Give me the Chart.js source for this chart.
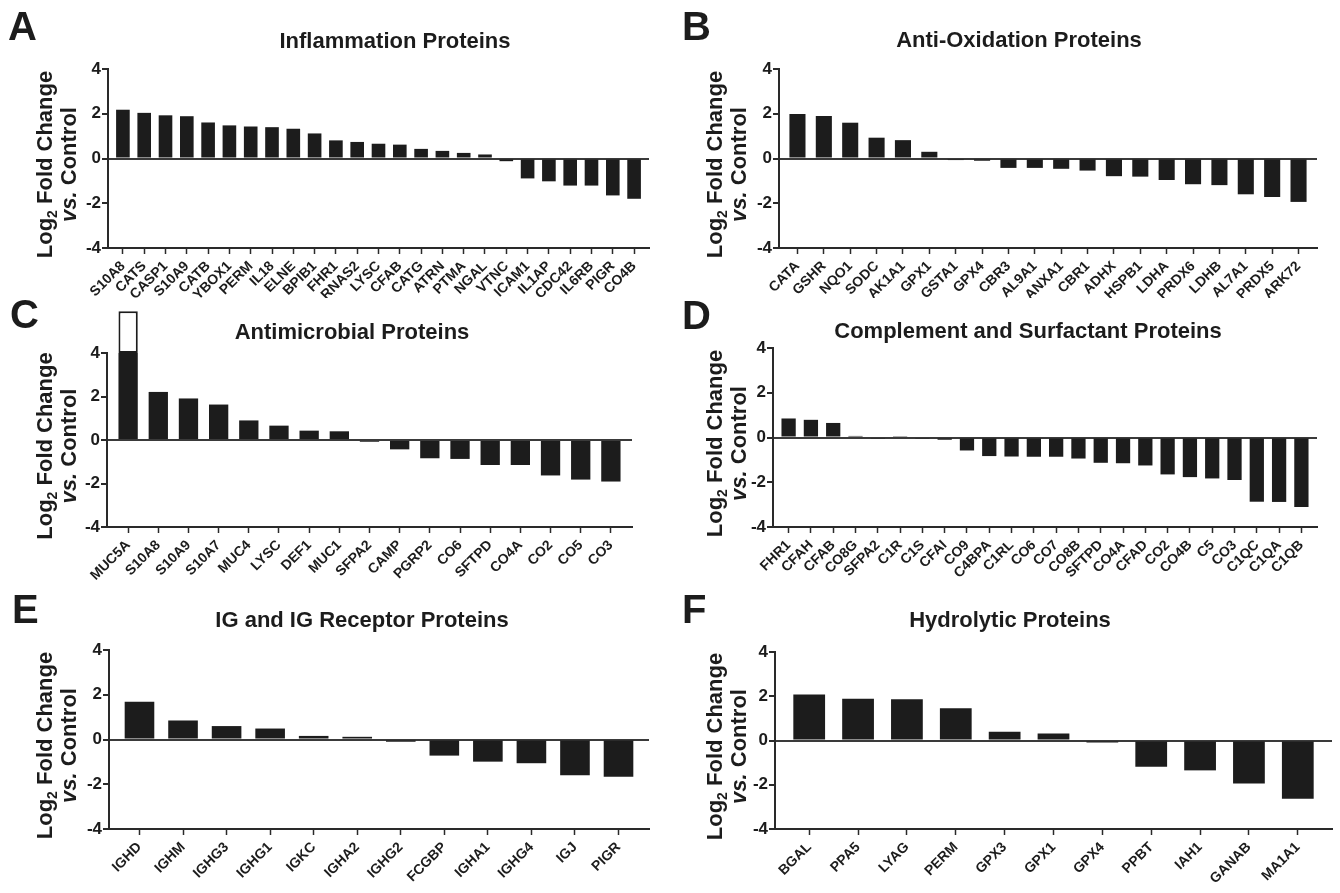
<!DOCTYPE html>
<html lang="en">
<head>
<meta charset="UTF-8">
<title>Log2 fold change of protein groups</title>
<script src="https://cdn.jsdelivr.net/npm/chart.js@4"></script>
<style>
  body { margin: 0; background: #fff; }
  .figure { position: relative; width: 1340px; height: 893px; }
  .figure canvas { position: absolute; }
</style>
</head>
<body>
<div class="figure">
  <canvas id="chartA" width="670" height="298" style="left:0;top:0"></canvas>
  <canvas id="chartB" width="670" height="298" style="left:670px;top:0"></canvas>
  <canvas id="chartC" width="670" height="292" style="left:0;top:298px"></canvas>
  <canvas id="chartD" width="670" height="292" style="left:670px;top:298px"></canvas>
  <canvas id="chartE" width="670" height="303" style="left:0;top:590px"></canvas>
  <canvas id="chartF" width="670" height="303" style="left:670px;top:590px"></canvas>
</div>

<script>
// A - Inflammation
var inflLabels = ['S10A8', 'CATS', 'CASP1', 'S10A9', 'CATB', 'YBOX1', 'PERM', 'IL18', 'ELNE', 'BPIB1',
  'FHR1', 'RNAS2', 'LYSC', 'CFAB', 'CATG', 'ATRN', 'PTMA', 'NGAL', 'VTNC', 'ICAM1', 'IL1AP',
  'CDC42', 'IL6RB', 'PIGR', 'CO4B'];
var inflValues = [2.18, 2.04, 1.93, 1.89, 1.61, 1.48, 1.43, 1.40, 1.33, 1.12, 0.81, 0.74, 0.66,
  0.62, 0.43, 0.34, 0.25, 0.18, -0.12, -0.89, -1.02, -1.21, -1.21, -1.65, -1.80];

// B - Anti-oxidation
var oxLabels = ['CATA', 'GSHR', 'NQO1', 'SODC', 'AK1A1', 'GPX1', 'GSTA1', 'GPX4', 'CBR3', 'AL9A1',
  'ANXA1', 'CBR1', 'ADHX', 'HSPB1', 'LDHA', 'PRDX6', 'LDHB', 'AL7A1', 'PRDX5', 'ARK72'];
var oxValues = [1.99, 1.90, 1.60, 0.93, 0.82, 0.30, -0.07, -0.10, -0.42, -0.42, -0.46, -0.54,
  -0.79, -0.81, -0.96, -1.15, -1.19, -1.60, -1.72, -1.94];

// C - Antimicrobial (MUC5A runs past the top of the axis)
var microLabels = ['MUC5A', 'S10A8', 'S10A9', 'S10A7', 'MUC4', 'LYSC', 'DEF1', 'MUC1', 'SFPA2',
  'CAMP', 'PGRP2', 'CO6', 'SFTPD', 'CO4A', 'CO2', 'CO5', 'CO3'];
var microValues = [5.92, 2.21, 1.91, 1.63, 0.90, 0.66, 0.43, 0.40, -0.08, -0.43, -0.84, -0.87,
  -1.15, -1.15, -1.63, -1.82, -1.91];

// D - Complement and surfactant
var compLabels = ['FHR1', 'CFAH', 'CFAB', 'CO8G', 'SFPA2', 'C1R', 'C1S', 'CFAI', 'CO9', 'C4BPA',
  'C1RL', 'CO6', 'CO7', 'CO8B', 'SFTPD', 'CO4A', 'CFAD', 'CO2', 'CO4B', 'C5', 'CO3', 'C1QC',
  'C1QA', 'C1QB'];
var compValues = [0.85, 0.79, 0.65, 0.07, -0.06, 0.06, -0.06, -0.10, -0.58, -0.83, -0.85, -0.86,
  -0.86, -0.94, -1.13, -1.15, -1.25, -1.65, -1.77, -1.83, -1.90, -2.87, -2.88, -3.11];

// E - IG and IG receptor
var igLabels = ['IGHD', 'IGHM', 'IGHG3', 'IGHG1', 'IGKC', 'IGHA2', 'IGHG2', 'FCGBP', 'IGHA1',
  'IGHG4', 'IGJ', 'PIGR'];
var igValues = [1.69, 0.85, 0.60, 0.49, 0.16, 0.12, -0.10, -0.72, -0.99, -1.06, -1.60, -1.67];

// F - Hydrolytic
var hydroLabels = ['BGAL', 'PPA5', 'LYAG', 'PERM', 'GPX3', 'GPX1', 'GPX4', 'PPBT', 'IAH1',
  'GANAB', 'MA1A1'];
var hydroValues = [2.08, 1.89, 1.86, 1.46, 0.39, 0.32, -0.09, -1.19, -1.35, -1.94, -2.63];

var yTicks = [-4, -2, 0, 2, 4];

var FONT = '"Liberation Sans", Arial, Helvetica, sans-serif';
var INK = '#1c1c1c';
var AXIS = '#2a2a2a';

// where each panel sits inside its own canvas
var panels = [
  { id: 'chartA', letter: 'A', title: 'Inflammation Proteins', labels: inflLabels, values: inflValues,
    left: 108, right: 649, top: 69, bottom: 248, titleX: 395, titleY: 48, letterX: 8, letterY: 40, bar: 0.64 },
  { id: 'chartB', letter: 'B', title: 'Anti-Oxidation Proteins', labels: oxLabels, values: oxValues,
    left: 109, right: 647, top: 69, bottom: 248, titleX: 349, titleY: 47, letterX: 12, letterY: 40, bar: 0.61 },
  { id: 'chartC', letter: 'C', title: 'Antimicrobial Proteins', labels: microLabels, values: microValues,
    left: 107, right: 632, top: 55, bottom: 229, titleX: 352, titleY: 41, letterX: 10, letterY: 30, bar: 0.64 },
  { id: 'chartD', letter: 'D', title: 'Complement and Surfactant Proteins', labels: compLabels, values: compValues,
    left: 103, right: 647, top: 50, bottom: 229, titleX: 358, titleY: 40, letterX: 12, letterY: 31, bar: 0.64 },
  { id: 'chartE', letter: 'E', title: 'IG and IG Receptor Proteins', labels: igLabels, values: igValues,
    left: 109, right: 649, top: 60, bottom: 239, titleX: 362, titleY: 37, letterX: 12, letterY: 33, bar: 0.68 },
  { id: 'chartF', letter: 'F', title: 'Hydrolytic Proteins', labels: hydroLabels, values: hydroValues,
    left: 105, right: 662, top: 62, bottom: 239, titleX: 340, titleY: 37, letterX: 12, letterY: 33, bar: 0.65 }
];

// panel letter, title and the two-line y title (subscript 2, italic vs.)
var panelText = {
  id: 'panelText',
  afterDraw: function (chart, args, o) {
    var ctx = chart.ctx, a = chart.chartArea;
    var big = 'bold 22px ' + FONT;
    var sub = 'bold 14px ' + FONT;
    var ital = 'italic bold 22px ' + FONT;
    ctx.save();
    ctx.fillStyle = INK;
    ctx.textBaseline = 'alphabetic';
    ctx.textAlign = 'left';
    ctx.font = 'bold 40px ' + FONT;
    ctx.fillText(o.letter, o.letterX, o.letterY);
    ctx.font = big;
    ctx.textAlign = 'center';
    ctx.fillText(o.title, o.titleX, o.titleY);

    ctx.translate(0, (a.top + a.bottom) / 2 + 6);
    ctx.rotate(-Math.PI / 2);
    ctx.textAlign = 'left';
    ctx.font = big;
    var w1 = ctx.measureText('Log').width;
    var w3 = ctx.measureText(' Fold Change').width;
    ctx.font = sub;
    var w2 = ctx.measureText('2').width;
    var x = -(w1 + w2 + w3) / 2;
    ctx.font = big;
    ctx.fillText('Log', x, 52);
    ctx.font = sub;
    ctx.fillText('2', x + w1, 57);
    ctx.font = big;
    ctx.fillText(' Fold Change', x + w1 + w2, 52);

    ctx.font = ital;
    var v1 = ctx.measureText('vs.').width;
    ctx.font = big;
    var v2 = ctx.measureText(' Control').width;
    x = -(v1 + v2) / 2;
    ctx.font = ital;
    ctx.fillText('vs.', x, 76);
    ctx.font = big;
    ctx.fillText(' Control', x + v1, 76);
    ctx.restore();
  }
};

function makeChart(p) {
  var canvas = document.getElementById(p.id);
  var W = canvas.width, H = canvas.height;
  var yMax = yTicks[yTicks.length - 1];

  // bars are capped at the axis top; the part above is drawn as an open box
  var main = p.values.map(function (v, i) { return { x: i, y: Math.min(v, yMax) }; });
  var over = [];
  p.values.forEach(function (v, i) {
    if (v > yMax) over.push({ x: i, y: v - yMax });
  });

  new Chart(canvas, {
    type: 'bar',
    data: {
      datasets: [
        { data: main, backgroundColor: INK, barPercentage: p.bar, categoryPercentage: 1, clip: false },
        { data: over, backgroundColor: '#fff', borderColor: INK, borderWidth: 2, borderSkipped: false,
          barPercentage: p.bar, categoryPercentage: 1, clip: false }
      ]
    },
    plugins: [panelText],
    options: {
      responsive: false,
      animation: false,
      layout: { padding: { left: p.left - 40, right: W - p.right, top: p.top, bottom: 0 } },
      plugins: {
        legend: { display: false },
        tooltip: { enabled: false },
        panelText: { letter: p.letter, title: p.title, titleX: p.titleX, titleY: p.titleY,
          letterX: p.letterX, letterY: p.letterY }
      },
      scales: {
        x: {
          type: 'linear',
          stacked: true,
          offset: false,
          min: -0.7,
          max: p.labels.length - 0.3,
          afterBuildTicks: function (s) {
            s.ticks = p.labels.map(function (l, i) { return { value: i }; });
          },
          afterFit: function (s) { s.height = H - p.bottom; },
          ticks: {
            autoSkip: false,
            minRotation: 45,
            maxRotation: 45,
            padding: 4,
            color: INK,
            font: { family: FONT, size: 14, weight: 'bold' },
            callback: function (v) { return p.labels[v]; }
          },
          grid: { offset: false, drawOnChartArea: false, drawTicks: true, tickLength: 6,
            tickColor: AXIS, tickWidth: 1.5 },
          border: { color: AXIS, width: 2 }
        },
        y: {
          stacked: true,
          min: yTicks[0],
          max: yMax,
          afterBuildTicks: function (s) {
            s.ticks = yTicks.map(function (v) { return { value: v }; });
          },
          afterFit: function (s) { s.width = 40; },
          ticks: {
            padding: 1,
            color: INK,
            font: { family: FONT, size: 17, weight: 'bold' }
          },
          grid: {
            color: function (c) { return c.tick && c.tick.value === 0 ? '#3a3a3a' : 'rgba(0,0,0,0)'; },
            lineWidth: 2,
            tickLength: 6,
            tickColor: AXIS,
            tickWidth: 2
          },
          border: { color: AXIS, width: 2 }
        }
      }
    }
  });
}

panels.forEach(makeChart);
</script>
</body>
</html>
